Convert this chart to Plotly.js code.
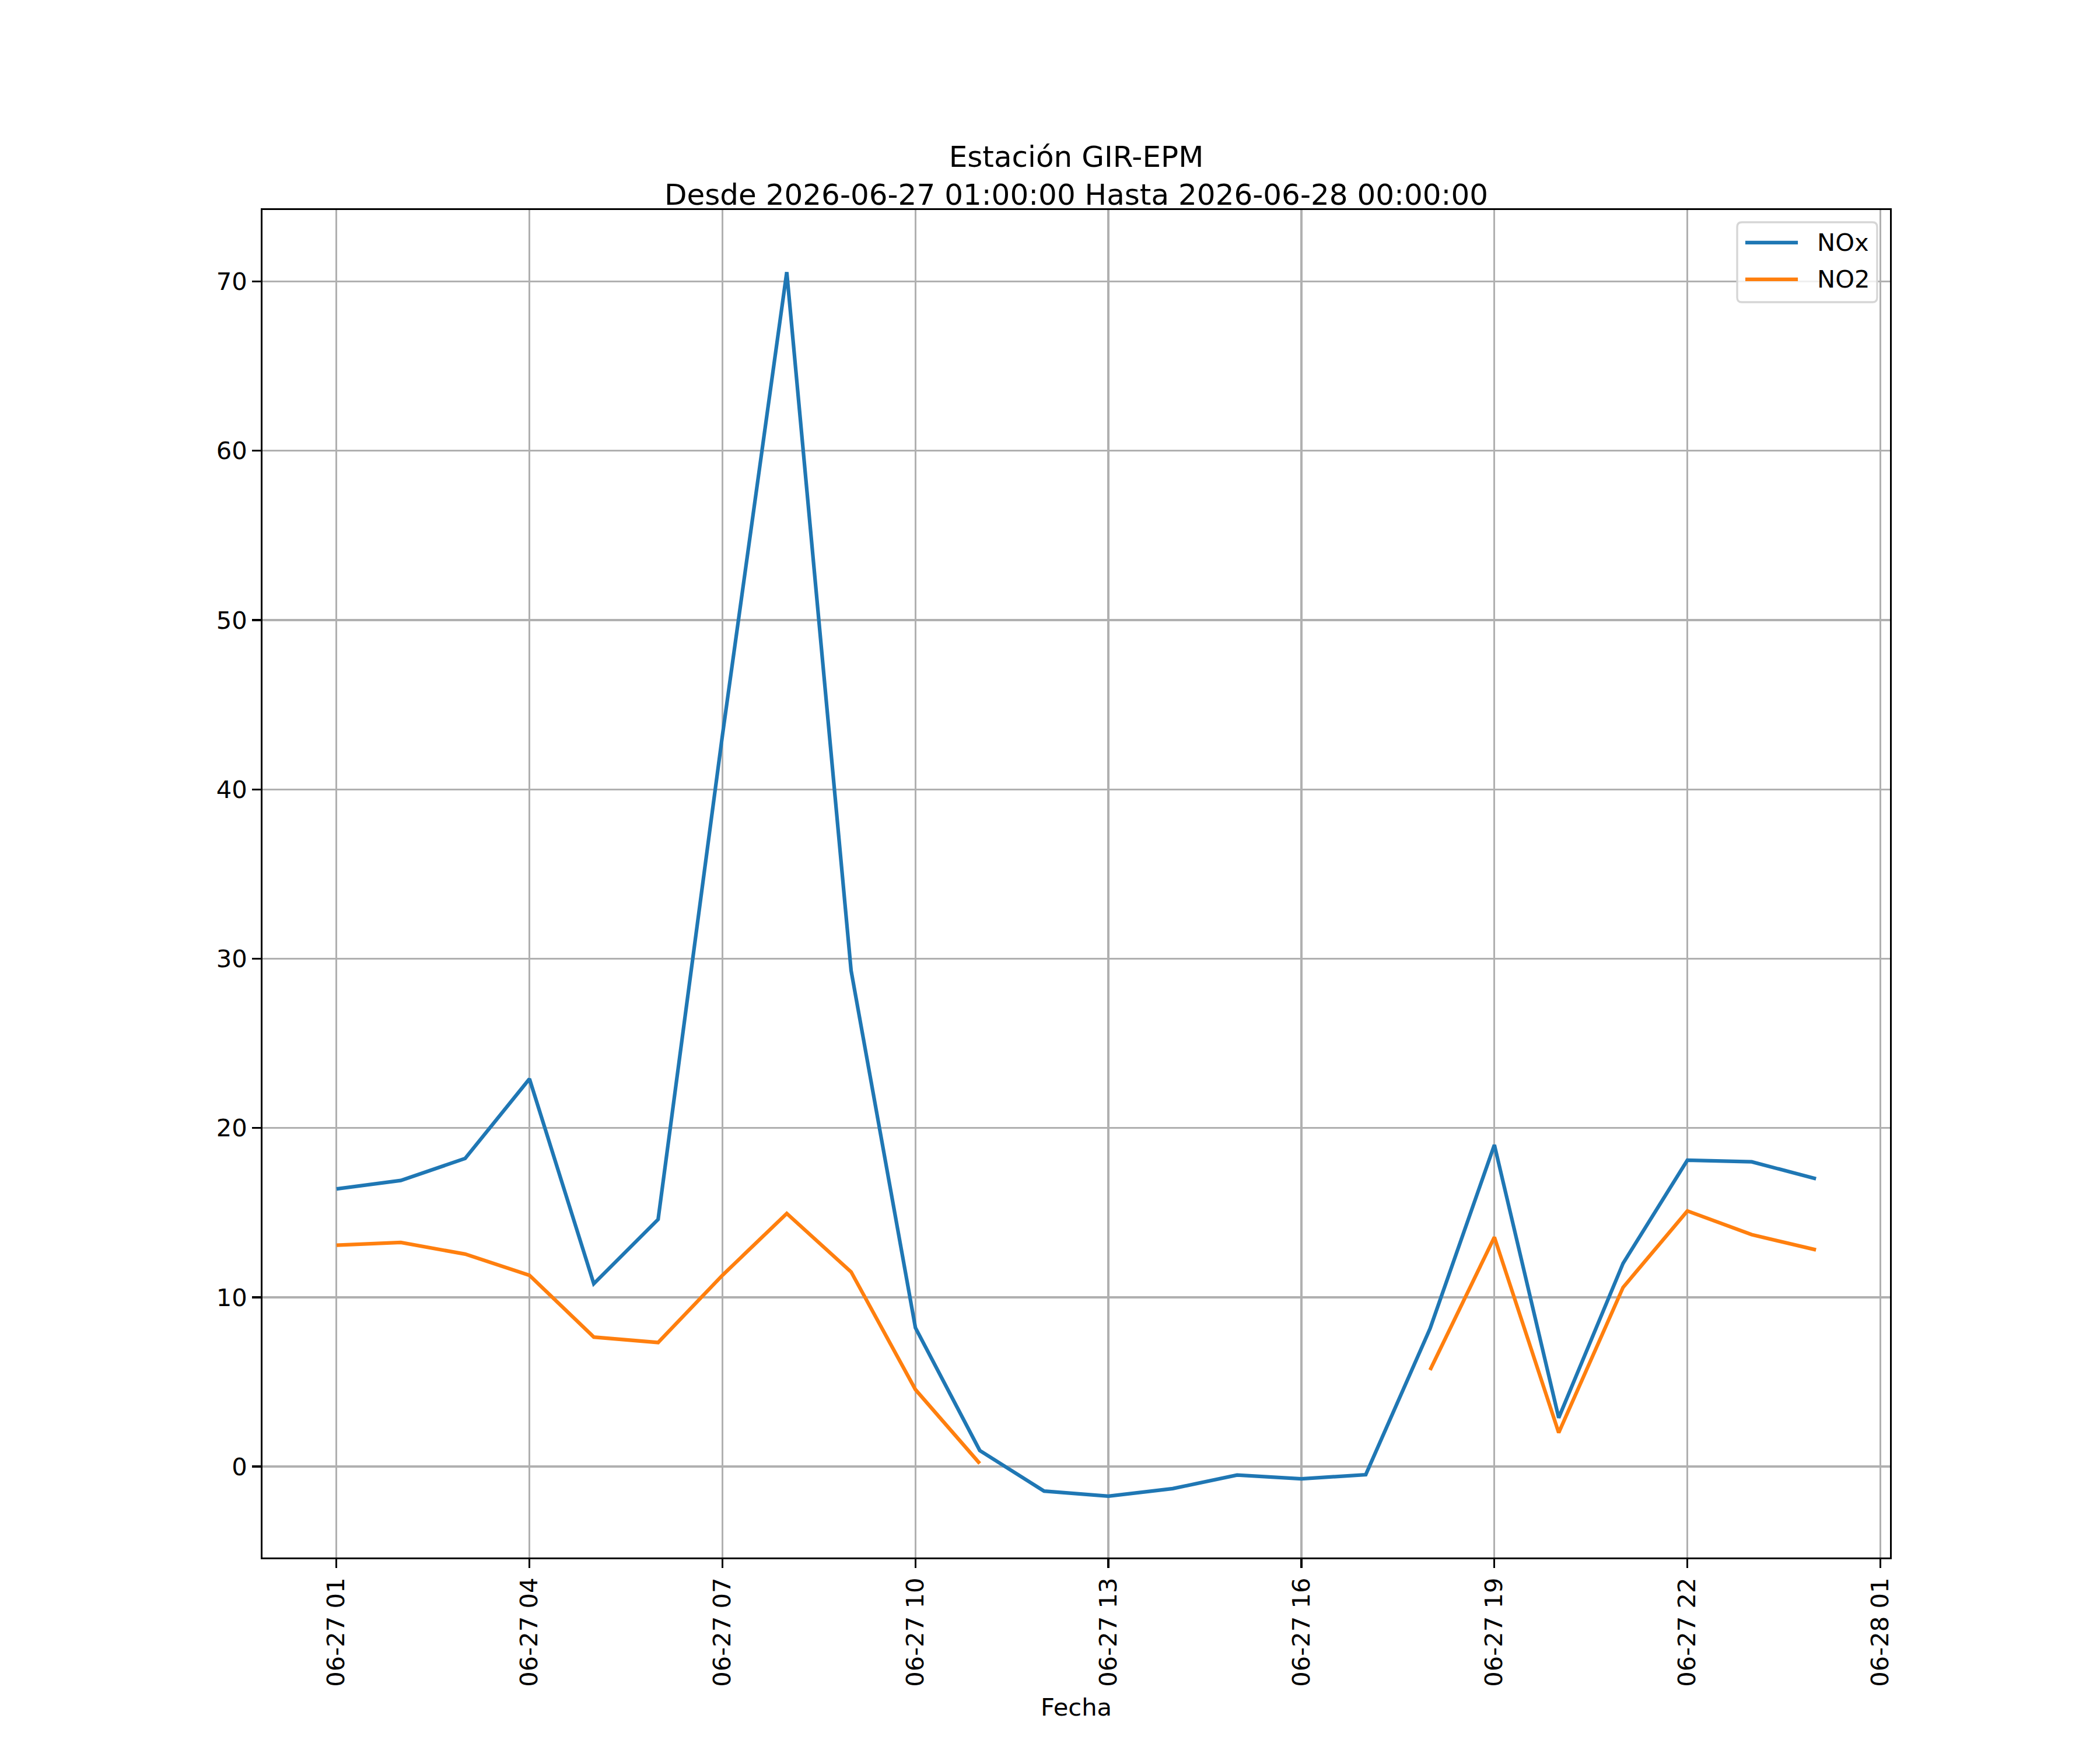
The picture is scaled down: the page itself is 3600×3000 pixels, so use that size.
<!DOCTYPE html>
<html>
<head>
<meta charset="utf-8">
<script src="https://cdn.plot.ly/plotly-3.0.1.min.js"></script>
<style>
  html, body { margin: 0; padding: 0; background: #ffffff; }
  #chart { width: 3600px; height: 3000px; }
</style>
</head>
<body>
<div id="chart"></div>
<script>
// hourly readings, station GIR-EPM
var horas = [
    '2026-06-27 01:00', '2026-06-27 02:00', '2026-06-27 03:00', '2026-06-27 04:00',
    '2026-06-27 05:00', '2026-06-27 06:00', '2026-06-27 07:00', '2026-06-27 08:00',
    '2026-06-27 09:00', '2026-06-27 10:00', '2026-06-27 11:00', '2026-06-27 12:00',
    '2026-06-27 13:00', '2026-06-27 14:00', '2026-06-27 15:00', '2026-06-27 16:00',
    '2026-06-27 17:00', '2026-06-27 18:00', '2026-06-27 19:00', '2026-06-27 20:00',
    '2026-06-27 21:00', '2026-06-27 22:00', '2026-06-27 23:00', '2026-06-28 00:00'
];
var nox = [16.4, 16.9, 18.2, 22.9, 10.8, 14.6, 43.2, 70.55, 29.3, 8.2, 0.95, -1.45,
           -1.75, -1.3, -0.5, -0.72, -0.48, 8.15, 19.0, 2.88, 12.0, 18.1, 18.0, 17.0];
var no2 = [13.08, 13.24, 12.55, 11.3, 7.65, 7.33, 11.3, 14.95, 11.5, 4.55, 0.18, null,
           null, null, null, null, null, 5.7, 13.55, 2.0, 10.58, 15.1, 13.7, 12.8];

var tickVals = [
    '2026-06-27 01:00', '2026-06-27 04:00', '2026-06-27 07:00', '2026-06-27 10:00',
    '2026-06-27 13:00', '2026-06-27 16:00', '2026-06-27 19:00', '2026-06-27 22:00',
    '2026-06-28 01:00'
];
var tickText = ['06-27 01', '06-27 04', '06-27 07', '06-27 10', '06-27 13',
                '06-27 16', '06-27 19', '06-27 22', '06-28 01'];
var yTicks = [0, 10, 20, 30, 40, 50, 60, 70];

var seriesNames = ['NOx', 'NO2'];
var seriesColors = ['#1f77b4', '#ff7f0e'];

var FONT = 'DejaVu Sans, Liberation Sans, sans-serif';
var PT = 300 / 72; // figure was 300 dpi

var traces = [
    {x: horas, y: nox, name: seriesNames[0], type: 'scatter', mode: 'lines',
     line: {color: seriesColors[0], width: 1.5 * PT}, connectgaps: false},
    {x: horas, y: no2, name: seriesNames[1], type: 'scatter', mode: 'lines',
     line: {color: seriesColors[1], width: 1.5 * PT}, connectgaps: false}
];

// hand drawn legend box (matplotlib style, rounded corners)
function roundRect(x0, y0, x1, y1, rx, ry) {
    return 'M' + (x0 + rx) + ',' + y0 +
        ' L' + (x1 - rx) + ',' + y0 + ' Q' + x1 + ',' + y0 + ' ' + x1 + ',' + (y0 + ry) +
        ' L' + x1 + ',' + (y1 - ry) + ' Q' + x1 + ',' + y1 + ' ' + (x1 - rx) + ',' + y1 +
        ' L' + (x0 + rx) + ',' + y1 + ' Q' + x0 + ',' + y1 + ' ' + x0 + ',' + (y1 - ry) +
        ' L' + x0 + ',' + (y0 + ry) + ' Q' + x0 + ',' + y0 + ' ' + (x0 + rx) + ',' + y0 + ' Z';
}

var legRows = [0.9758, 0.9485];
var shapes = [{
    type: 'path', xref: 'paper', yref: 'paper',
    path: roundRect(0.9061, 0.9316, 0.9921, 0.9909, 0.0029, 0.0035),
    fillcolor: 'rgba(255,255,255,0.8)',
    line: {color: '#d6d6d6', width: 0.8 * PT}
}];
var annotations = [];
seriesNames.forEach(function(n, i) {
    shapes.push({type: 'line', xref: 'paper', yref: 'paper',
        x0: 0.9111, x1: 0.9434, y0: legRows[i], y1: legRows[i],
        line: {color: seriesColors[i], width: 1.5 * PT}});
    annotations.push({xref: 'paper', yref: 'paper', x: 0.9545, y: legRows[i],
        xanchor: 'left', yanchor: 'middle', showarrow: false, text: n,
        font: {family: FONT, size: 10 * PT, color: '#000000'}});
});
annotations.push({xref: 'paper', yref: 'paper', x: 0.5, y: -0.111,
    xanchor: 'center', yanchor: 'middle', showarrow: false, text: 'Fecha',
    font: {family: FONT, size: 10 * PT, color: '#000000'}});

var layout = {
    width: 3600,
    height: 3000,
    paper_bgcolor: '#ffffff',
    plot_bgcolor: '#ffffff',
    margin: {l: 450, r: 360, t: 360, b: 330, pad: 0},
    showlegend: false,
    font: {family: FONT, size: 10 * PT, color: '#000000'},
    title: {
        text: 'Estación GIR-EPM<br>Desde 2026-06-27 01:00:00 Hasta 2026-06-28 00:00:00',
        font: {family: FONT, size: 12 * PT, color: '#000000'},
        x: 0.5, xref: 'paper', xanchor: 'center',
        y: 1, yref: 'paper', yanchor: 'bottom',
        pad: {b: 74}
    },
    xaxis: {
        type: 'date',
        range: ['2026-06-26 23:51', '2026-06-28 01:09'],
        tickmode: 'array', tickvals: tickVals, ticktext: tickText,
        tickangle: -90,
        ticks: 'outside', ticklen: 3.5 * PT, tickwidth: 0.8 * PT, tickcolor: '#000000',
        showgrid: true, gridcolor: '#b0b0b0', gridwidth: 0.8 * PT,
        showline: true, mirror: true, linecolor: '#000000', linewidth: 0.8 * PT,
        zeroline: false,
        tickfont: {family: FONT, size: 10 * PT, color: '#000000'},
        automargin: false
    },
    yaxis: {
        range: [-5.37, 74.22],
        tickmode: 'array', tickvals: yTicks,
        ticks: 'outside', ticklen: 3.5 * PT, tickwidth: 0.8 * PT, tickcolor: '#000000',
        showgrid: true, gridcolor: '#b0b0b0', gridwidth: 0.8 * PT,
        showline: true, mirror: true, linecolor: '#000000', linewidth: 0.8 * PT,
        zeroline: false,
        tickfont: {family: FONT, size: 10 * PT, color: '#000000'},
        automargin: false
    },
    shapes: shapes,
    annotations: annotations
};

Plotly.newPlot('chart', traces, layout, {displayModeBar: false, staticPlot: true});
</script>
</body>
</html>
